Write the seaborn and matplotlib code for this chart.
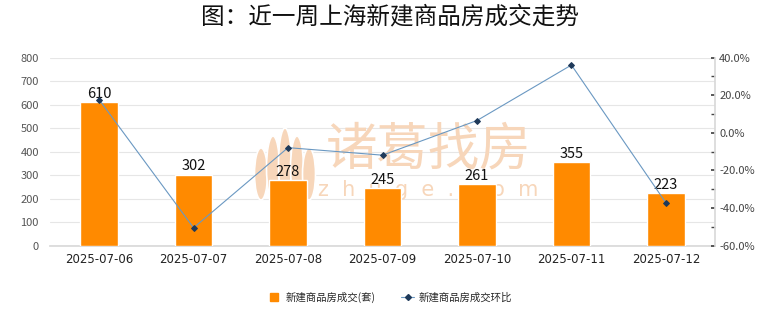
import matplotlib
matplotlib.use("Agg")
import matplotlib.pyplot as plt
import seaborn as sns
import pandas as pd
from matplotlib.ticker import MultipleLocator, FuncFormatter
from matplotlib.lines import Line2D
from matplotlib.patches import Ellipse

dates = ["2025-07-06", "2025-07-07", "2025-07-08", "2025-07-09",
         "2025-07-10", "2025-07-11", "2025-07-12"]
deals = [610, 302, 278, 245, 261, 355, 223]
wow_pct = [17.6, -50.5, -7.9, -11.9, 6.5, 36.0, -37.2]

sns.set_theme(style="white")
plt.rcParams["font.family"] = ["Noto Sans CJK SC", "DejaVu Sans"]

df = pd.DataFrame({"date": dates, "deals": deals, "pct": wow_pct})

W, H = 780, 328
fig = plt.figure(figsize=(7.8, 3.28), dpi=100)
ax = fig.add_axes([50 / W, 1 - 245.7 / H, 665 / W, 188.2 / H])

sns.barplot(data=df, x="date", y="deals", color="#FF8A00", saturation=1,
            width=0.4, ax=ax, zorder=3)
ax.set_ylim(0, 800)
ax.yaxis.set_major_locator(MultipleLocator(100))
ax.grid(axis="y", color="#E6E6E6", linewidth=0.8, zorder=0)
ax.set_axisbelow(True)
ax.set_xlabel("")
ax.set_ylabel("")
for s in ["top", "right", "left"]:
    ax.spines[s].set_visible(False)
ax.spines["bottom"].set_color("#D9D9D9")
ax.tick_params(axis="y", labelsize=8, colors="#555555", length=0, pad=8)
ax.tick_params(axis="x", labelsize=8.5, colors="#222222", length=0, pad=5)
for lbl in ax.get_xticklabels():
    lbl.set_family(["DejaVu Sans"])

for i, v in enumerate(deals):
    ax.text(i, v + 6, str(v), ha="center", va="bottom", fontsize=10.5,
            color="#111111", zorder=5)

# faint brand watermark behind the bars
wm = "#F7D6BA"
ax.text(428 / W, 1 - 150 / H, "诸葛找房", transform=fig.transFigure,
        ha="center", va="center", fontsize=37, color=wm, zorder=1)
ax.text(428 / W, 1 - 190 / H, "z  h  u  g  e  .  c  o  m",
        transform=fig.transFigure, ha="center", va="center", fontsize=15,
        color=wm, zorder=1, family=["DejaVu Sans"])
for dx, h in [(-24, 52), (-12, 64), (0, 72), (12, 64), (24, 52)]:
    ax.add_patch(Ellipse(((285 + dx) / W, 1 - (200 - h / 2) / H),
                         13 / W, h / H, transform=fig.transFigure,
                         facecolor=wm, edgecolor="white", linewidth=1.2,
                         zorder=1))

ax2 = ax.twinx()
sns.lineplot(data=df, x="date", y="pct", ax=ax2, color="#6A98C2",
             linewidth=0.8, marker="D", markersize=3,
             markerfacecolor="#1F3A5A", markeredgecolor="#1F3A5A",
             sort=False, zorder=4)
ax2.set_ylim(-60, 40)
ax2.yaxis.set_major_locator(MultipleLocator(20))
ax2.yaxis.set_minor_locator(MultipleLocator(10))
ax2.yaxis.set_major_formatter(FuncFormatter(lambda v, p: f"{v:.1f}%"))
ax2.set_ylabel("")
ax2.set_xlabel("")
for s in ["top", "left", "bottom"]:
    ax2.spines[s].set_visible(False)
ax2.spines["right"].set_color("#D9D9D9")
ax2.tick_params(axis="y", which="major", labelsize=8, colors="#444444",
                length=3, pad=3)
ax2.tick_params(axis="y", which="minor", length=3, colors="#444444")
ax2.tick_params(axis="y", which="both", right=True, direction="in")
ax2.grid(False)

fig.text(0.5, 1 - 17 / H, "图：近一周上海新建商品房成交走势", ha="center",
         va="center", fontsize=17, color="#111111", weight="medium")

handles = [
    Line2D([0], [0], marker="s", color="none", markerfacecolor="#FF8A00",
           markeredgecolor="#FF8A00", markersize=6),
    Line2D([0], [0], color="#6A98C2", linewidth=0.8, marker="D", markersize=3,
           markerfacecolor="#1F3A5A", markeredgecolor="#1F3A5A"),
]
fig.legend(handles, ["新建商品房成交(套)", "新建商品房成交环比"], loc="center",
           bbox_to_anchor=(0.5, 1 - 297 / H), ncol=2, frameon=False,
           fontsize=7.5, handlelength=1.2, columnspacing=2.5, handletextpad=0.5)

fig.savefig("out.png", dpi=100)
